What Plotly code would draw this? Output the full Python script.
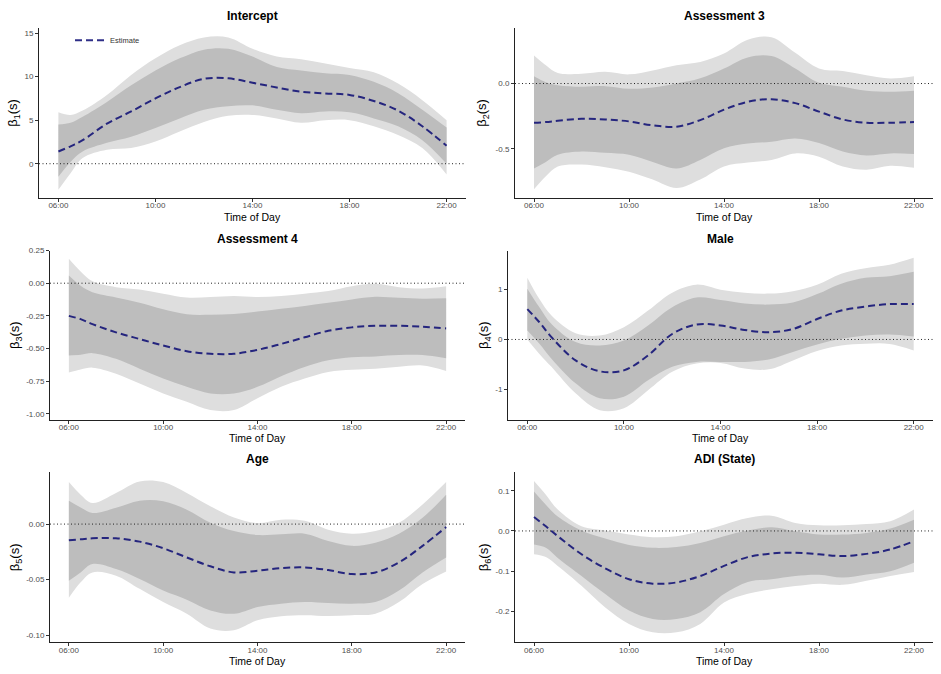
import plotly.graph_objects as go

# ---------------- data ----------------
hours = [6, 6.5, 7, 8, 9, 10, 11, 12, 13, 14, 15, 16, 17, 18, 19, 20, 21, 22]
x_tick_vals = [6, 10, 14, 18, 22]
x_tick_text = ["06:00", "10:00", "14:00", "18:00", "22:00"]

titles = ["Intercept", "Assessment 3", "Assessment 4", "Male", "Age", "ADI (State)"]
y_titles = ["β<sub>1</sub>(s)", "β<sub>2</sub>(s)", "β<sub>3</sub>(s)",
            "β<sub>4</sub>(s)", "β<sub>5</sub>(s)", "β<sub>6</sub>(s)"]

# Panel 1: Intercept
est1 = [1.4, 2.0, 2.7, 4.6, 6.0, 7.5, 8.8, 9.75, 9.8, 9.3, 8.75, 8.26, 8.07, 7.9, 7.2, 6.1, 4.3, 2.05]
in_up1 = [4.5, 4.7, 5.4, 7.1, 9.0, 10.7, 12.1, 13.1, 13.2, 12.3, 11.1, 10.7, 10.4, 10.2, 9.4, 8.1, 6.2, 4.15]
in_lo1 = [-1.5, 0.2, 1.4, 2.4, 3.1, 4.1, 5.2, 6.2, 6.6, 6.7, 6.2, 5.8, 6.0, 5.9, 5.2, 4.3, 2.7, 0.0]
out_up1 = [5.9, 5.6, 6.1, 7.9, 10.2, 12.1, 13.6, 14.5, 14.5, 13.2, 12.3, 12.0, 11.5, 11.0, 10.5, 9.2, 7.3, 5.0]
out_lo1 = [-3.0, -1.1, 0.65, 1.6, 1.8, 2.55, 3.7, 4.8, 5.5, 5.6, 5.2, 4.7, 5.0, 5.0, 4.3, 3.3, 1.8, -1.25]

# Panel 2: Assessment 3
est2 = [-0.30, -0.295, -0.285, -0.27, -0.275, -0.29, -0.32, -0.33, -0.28, -0.20, -0.14, -0.12, -0.15, -0.215, -0.275, -0.30, -0.30, -0.295]
in_up2 = [0.055, 0.01, -0.013, -0.025, -0.02, -0.04, -0.03, 0.0, 0.04, 0.115, 0.20, 0.21, 0.115, 0.005, -0.025, -0.055, -0.063, -0.055]
in_lo2 = [-0.65, -0.60, -0.545, -0.52, -0.53, -0.545, -0.60, -0.65, -0.585, -0.495, -0.46, -0.445, -0.42, -0.455, -0.52, -0.55, -0.535, -0.54]
out_up2 = [0.215, 0.14, 0.08, 0.075, 0.09, 0.07, 0.10, 0.14, 0.165, 0.23, 0.335, 0.355, 0.235, 0.115, 0.095, 0.063, 0.038, 0.055]
out_lo2 = [-0.81, -0.71, -0.635, -0.62, -0.64, -0.675, -0.735, -0.80, -0.735, -0.635, -0.605, -0.585, -0.535, -0.56, -0.635, -0.66, -0.63, -0.645]

# Panel 3: Assessment 4
est3 = [-0.25, -0.275, -0.313, -0.376, -0.427, -0.477, -0.52, -0.54, -0.54, -0.51, -0.465, -0.414, -0.364, -0.338, -0.326, -0.326, -0.333, -0.346]
in_up3 = [0.058, -0.02, -0.07, -0.11, -0.15, -0.2, -0.238, -0.242, -0.236, -0.217, -0.195, -0.174, -0.15, -0.124, -0.104, -0.112, -0.118, -0.116]
in_lo3 = [-0.553, -0.548, -0.535, -0.578, -0.654, -0.73, -0.793, -0.843, -0.843, -0.793, -0.712, -0.641, -0.59, -0.566, -0.56, -0.55, -0.55, -0.575]
out_up3 = [0.187, 0.09, 0.015, -0.03, -0.048, -0.08, -0.11, -0.106, -0.098, -0.106, -0.098, -0.08, -0.06, -0.023, -0.005, -0.03, -0.04, -0.023]
out_lo3 = [-0.684, -0.66, -0.646, -0.692, -0.768, -0.843, -0.907, -0.97, -0.97, -0.88, -0.793, -0.73, -0.679, -0.662, -0.654, -0.64, -0.63, -0.672]

# Panel 4: Male
est4 = [0.61, 0.345, 0.046, -0.42, -0.64, -0.62, -0.32, 0.11, 0.30, 0.28, 0.19, 0.146, 0.21, 0.41, 0.58, 0.66, 0.71, 0.71]
in_up4 = [1.02, 0.645, 0.31, -0.053, -0.12, -0.02, 0.28, 0.645, 0.84, 0.79, 0.72, 0.70, 0.74, 0.91, 1.12, 1.24, 1.27, 1.36]
in_lo4 = [0.18, -0.086, -0.385, -0.88, -1.18, -1.15, -0.82, -0.55, -0.45, -0.45, -0.45, -0.40, -0.25, -0.10, 0.013, 0.08, 0.10, 0.06]
out_up4 = [1.24, 0.81, 0.48, 0.126, 0.08, 0.246, 0.58, 0.94, 1.1, 1.0, 0.94, 0.92, 0.97, 1.1, 1.32, 1.43, 1.5, 1.64]
out_lo4 = [0.0, -0.29, -0.55, -1.08, -1.42, -1.38, -1.02, -0.65, -0.485, -0.47, -0.585, -0.6, -0.42, -0.23, -0.12, -0.086, -0.09, -0.22]

# Panel 5: Age
est5 = [-0.0146, -0.0137, -0.0128, -0.0128, -0.0158, -0.0217, -0.030, -0.038, -0.0435, -0.042, -0.0396, -0.039, -0.0414, -0.045, -0.0435, -0.0345, -0.0196, -0.0027]
in_up5 = [0.021, 0.015, 0.010, 0.0146, 0.021, 0.0205, 0.013, 0.0012, -0.0063, -0.0098, -0.0092, -0.0086, -0.0152, -0.0196, -0.0167, -0.0086, 0.0057, 0.0265]
in_lo5 = [-0.051, -0.0435, -0.036, -0.0405, -0.0494, -0.0598, -0.068, -0.0777, -0.0807, -0.0747, -0.0717, -0.0702, -0.0711, -0.0717, -0.0702, -0.0598, -0.0435, -0.030]
out_up5 = [0.0378, 0.0265, 0.019, 0.028, 0.0384, 0.0378, 0.028, 0.016, 0.006, 0.001, 0.004, 0.003, -0.005, -0.0086, -0.0063, 0.0012, 0.0176, 0.0378]
out_lo5 = [-0.0664, -0.0524, -0.0435, -0.0464, -0.0583, -0.0702, -0.0807, -0.094, -0.0955, -0.0866, -0.083, -0.082, -0.0827, -0.082, -0.0807, -0.0702, -0.0539, -0.0426]

# Panel 6: ADI (State)
est6 = [0.0346, 0.0115, -0.013, -0.058, -0.093, -0.12, -0.131, -0.128, -0.112, -0.087, -0.065, -0.056, -0.054, -0.058, -0.0625, -0.057, -0.046, -0.0255]
in_up6 = [0.098, 0.065, 0.036, 0.001, -0.019, -0.035, -0.042, -0.040, -0.030, -0.013, 0.001, 0.009, -0.001, -0.009, -0.009, -0.005, 0.006, 0.028]
in_lo6 = [-0.034, -0.042, -0.067, -0.112, -0.157, -0.198, -0.219, -0.219, -0.202, -0.157, -0.127, -0.12, -0.112, -0.109, -0.116, -0.108, -0.10, -0.079]
out_up6 = [0.124, 0.09, 0.053, 0.0115, 0.001, -0.009, -0.0156, -0.013, -0.001, 0.0156, 0.032, 0.038, 0.02, 0.014, 0.014, 0.017, 0.024, 0.053]
out_lo6 = [-0.058, -0.065, -0.087, -0.136, -0.19, -0.231, -0.252, -0.252, -0.231, -0.178, -0.156, -0.145, -0.137, -0.131, -0.134, -0.124, -0.112, -0.102]

# y-axis ticks and ranges
y_tick_vals = [
    [0, 5, 10, 15],
    [-0.5, 0.0],
    [-1.0, -0.75, -0.5, -0.25, 0.0, 0.25],
    [-1, 0, 1],
    [-0.10, -0.05, 0.0],
    [-0.2, -0.1, 0.0, 0.1],
]
y_tick_text = [
    ["0", "5", "10", "15"],
    ["-0.5", "0.0"],
    ["-1.00", "-0.75", "-0.50", "-0.25", "0.00", "0.25"],
    ["-1", "0", "1"],
    ["-0.10", "-0.05", "0.00"],
    ["-0.2", "-0.1", "0.0", "0.1"],
]
y_ranges = [
    [-3.92, 15.6],
    [-0.875, 0.426],
    [-1.043, 0.25],
    [-1.607, 1.785],
    [-0.1063, 0.0467],
    [-0.2765, 0.146],
]

panels = [
    (est1, in_up1, in_lo1, out_up1, out_lo1),
    (est2, in_up2, in_lo2, out_up2, out_lo2),
    (est3, in_up3, in_lo3, out_up3, out_lo3),
    (est4, in_up4, in_lo4, out_up4, out_lo4),
    (est5, in_up5, in_lo5, out_up5, out_lo5),
    (est6, in_up6, in_lo6, out_up6, out_lo6),
]

# ---------------- layout geometry (pixels) ----------------
W, H = 941, 674
# (left, right, top, bottom) of each plotting area
boxes = [
    (39, 466, 24, 195),
    (515, 933, 24, 195),
    (50, 465, 248, 418),
    (508, 933, 248, 418),
    (50, 465, 471, 642),
    (515, 933, 471, 642),
]
title_y = [12, 12, 236, 236, 458, 458]
xtitle_y = [214, 214, 437, 437, 661, 661]
ytitle_x = [14, 483, 15, 484, 15, 484]

LIGHT = "#DEDEDE"
DARK = "#BDBDBD"
LINE = "rgba(10,10,115,0.85)"
FONT = "Liberation Sans, Arial, Helvetica, sans-serif"

fig = go.Figure()
layout = dict(
    width=W, height=H,
    margin=dict(l=0, r=0, t=0, b=0),
    paper_bgcolor="white", plot_bgcolor="white",
    font=dict(family=FONT),
    showlegend=True,
    legend=dict(x=70 / W, y=1 - 22 / H, xanchor="left", yanchor="top",
                bgcolor="rgba(0,0,0,0)", font=dict(size=7.5, color="#333333", family=FONT),
                itemwidth=30, tracegroupgap=0),
)
annotations = []
shapes = []

for i, (est, iu, il, ou, ol) in enumerate(panels):
    n = i + 1
    xa = "x" if n == 1 else f"x{n}"
    ya = "y" if n == 1 else f"y{n}"
    l, r, t, b = boxes[i]
    layout["xaxis" if n == 1 else f"xaxis{n}"] = dict(
        domain=[l / W, r / W], anchor=ya, range=[5.2, 22.8],
        tickvals=x_tick_vals, ticktext=x_tick_text,
        showline=True, linecolor="#222", linewidth=1,
        ticks="outside", ticklen=3, tickcolor="#333", tickwidth=1,
        ticklabelstandoff=-3,
        tickfont=dict(size=8, color="#4D4D4D", family=FONT),
        showgrid=False, zeroline=False, fixedrange=True,
    )
    layout["yaxis" if n == 1 else f"yaxis{n}"] = dict(
        domain=[1 - b / H, 1 - t / H], anchor=xa, range=y_ranges[i],
        tickvals=y_tick_vals[i], ticktext=y_tick_text[i],
        showline=True, linecolor="#222", linewidth=1,
        ticks="outside", ticklen=3, tickcolor="#333", tickwidth=1,
        tickfont=dict(size=8, color="#4D4D4D", family=FONT),
        showgrid=False, zeroline=False, fixedrange=True,
    )
    common = dict(x=hours, xaxis=xa, yaxis=ya, mode="lines", hoverinfo="skip",
                  showlegend=False)
    fig.add_trace(go.Scatter(y=ol, line=dict(width=0, shape="spline"), **common))
    fig.add_trace(go.Scatter(y=ou, line=dict(width=0, shape="spline"), fill="tonexty",
                             fillcolor=LIGHT, **common))
    fig.add_trace(go.Scatter(y=il, line=dict(width=0, shape="spline"), **common))
    fig.add_trace(go.Scatter(y=iu, line=dict(width=0, shape="spline"), fill="tonexty",
                             fillcolor=DARK, **common))
    shapes.append(dict(type="line", xref=f"{xa} domain", yref=ya, x0=0, x1=1, y0=0, y1=0,
                       line=dict(color="#222", width=1, dash="1px,2.5px"), layer="above"))
    est_kw = dict(common)
    est_kw["showlegend"] = (n == 1)
    fig.add_trace(go.Scatter(y=est, name="Estimate",
                             line=dict(color=LINE, width=2, dash="7px,4px", shape="spline"),
                             **est_kw))
    cx = (l + r) / 2 / W
    annotations.append(dict(text=f"<b>{titles[i]}</b>", x=cx, y=1 - title_y[i] / H,
                            xref="paper", yref="paper", showarrow=False,
                            xanchor="center", yanchor="middle",
                            font=dict(size=12, color="black", family=FONT)))
    annotations.append(dict(text="Time of Day", x=cx, y=1 - xtitle_y[i] / H,
                            xref="paper", yref="paper", showarrow=False,
                            xanchor="center", yanchor="middle",
                            font=dict(size=10.5, color="black", family=FONT)))
    annotations.append(dict(text=y_titles[i], x=ytitle_x[i] / W, y=1 - (t + b) / 2 / H,
                            xref="paper", yref="paper", showarrow=False, textangle=-90,
                            xanchor="center", yanchor="middle",
                            font=dict(size=13, color="black", family=FONT)))

layout["annotations"] = annotations
layout["shapes"] = shapes
fig.update_layout(**layout)
fig.write_html("out.html")
